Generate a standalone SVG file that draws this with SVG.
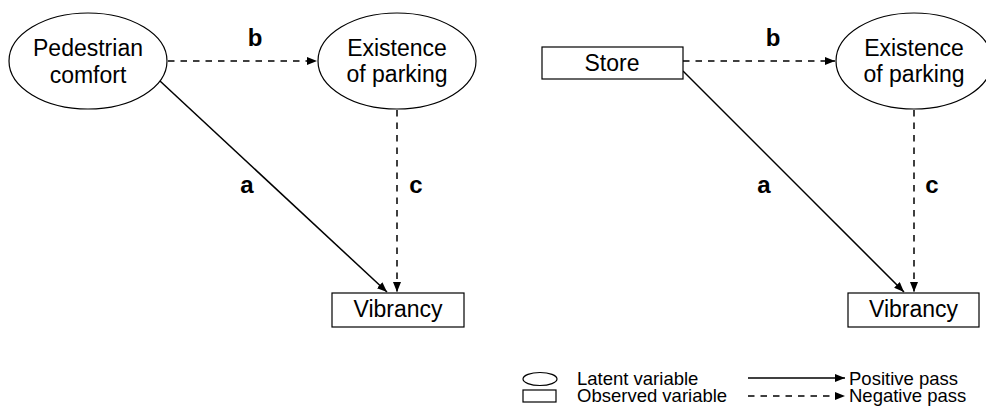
<svg xmlns="http://www.w3.org/2000/svg" width="986" height="414" viewBox="0 0 986 414">
  <style>
    .node { fill: #fff; stroke: #000; stroke-width: 1.2; }
    .txt { font-family: "Liberation Sans", Arial, sans-serif; font-size: 23px; fill: #000; text-anchor: middle; }
    .lbl { font-family: "Liberation Sans", Arial, sans-serif; font-size: 24px; font-weight: bold; fill: #000; text-anchor: middle; }
    .leg { font-family: "Liberation Sans", Arial, sans-serif; font-size: 18.5px; fill: #000; }
    .pos { stroke: #000; stroke-width: 1.5; fill: none; marker-end: url(#head); }
    .neg { stroke: #000; stroke-width: 1.5; fill: none; stroke-dasharray: 6.5 6; marker-end: url(#head); }
  </style>
  <defs>
    <marker id="head" viewBox="0 0 10 8" refX="10" refY="4" markerWidth="10" markerHeight="8" markerUnits="userSpaceOnUse" orient="auto">
      <path d="M0,0 L10,4 L0,8 Z" fill="#000"/>
    </marker>
  </defs>
  <rect width="986" height="414" fill="#fff"/>

  <!-- connectors -->
  <g id="connectors">
    <line class="neg" x1="168" y1="61" x2="317" y2="61"/>
    <line class="pos" x1="160" y1="81" x2="387" y2="292"/>
    <line class="neg" x1="397" y1="110" x2="397" y2="292"/>
    <line class="neg" x1="683" y1="61" x2="835" y2="61"/>
    <line class="pos" x1="683" y1="71" x2="904" y2="292"/>
    <line class="neg" x1="914" y1="110" x2="914" y2="292"/>
  </g>

  <!-- path labels -->
  <g id="labels">
    <text class="lbl" x="255" y="46">b</text>
    <text class="lbl" x="247" y="193">a</text>
    <text class="lbl" x="416" y="193">c</text>
    <text class="lbl" x="773" y="46">b</text>
    <text class="lbl" x="764" y="193">a</text>
    <text class="lbl" x="932" y="193">c</text>
  </g>

  <!-- left model -->
  <g id="pedestrian-comfort">
    <ellipse class="node" cx="88" cy="61" rx="79" ry="48"/>
    <text class="txt" x="88" y="56">Pedestrian</text>
    <text class="txt" x="88" y="83">comfort</text>
  </g>
  <g id="parking-left">
    <ellipse class="node" cx="397" cy="61" rx="79" ry="48"/>
    <text class="txt" x="397" y="56">Existence</text>
    <text class="txt" x="397" y="82">of parking</text>
  </g>
  <g id="vibrancy-left">
    <rect class="node" x="332" y="293" width="132" height="34"/>
    <text class="txt" x="398" y="317">Vibrancy</text>
  </g>

  <!-- right model -->
  <g id="store">
    <rect class="node" x="542" y="47" width="141" height="32"/>
    <text class="txt" x="612" y="71">Store</text>
  </g>
  <g id="parking-right">
    <ellipse class="node" cx="914" cy="61" rx="78" ry="48"/>
    <text class="txt" x="914" y="56">Existence</text>
    <text class="txt" x="914" y="82">of parking</text>
  </g>
  <g id="vibrancy-right">
    <rect class="node" x="848" y="293" width="131" height="34"/>
    <text class="txt" x="913.5" y="317">Vibrancy</text>
  </g>

  <!-- legend -->
  <g id="legend">
    <ellipse class="node" cx="540" cy="379" rx="17" ry="6.5"/>
    <text class="leg" x="577" y="385">Latent variable</text>
    <rect class="node" x="523" y="390" width="33" height="12"/>
    <text class="leg" x="577" y="402">Observed variable</text>
    <line class="pos" x1="748" y1="378" x2="845" y2="378"/>
    <text class="leg" x="849" y="385">Positive pass</text>
    <line class="neg" x1="748" y1="396" x2="845" y2="396"/>
    <text class="leg" x="849" y="402">Negative pass</text>
  </g>
</svg>
